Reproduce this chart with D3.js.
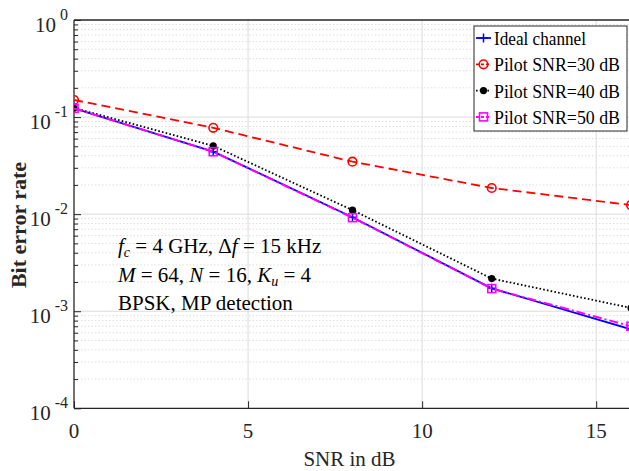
<!DOCTYPE html>
<html><head><meta charset="utf-8">
<script src="https://cdn.jsdelivr.net/npm/d3@7/dist/d3.min.js"></script>
<style>body{margin:0;background:#fff;}svg{display:block;font-family:"Liberation Serif","Times New Roman",serif;}</style>
</head><body><svg id="c" width="629" height="471"></svg>
<script>
const snr = [0, 4, 8, 12, 16];
const ideal = [0.123, 0.044, 0.0093, 0.00172, 0.00065];
const pilot30 = [0.150, 0.0775, 0.0347, 0.0186, 0.0124];
const pilot40 = [0.124, 0.0505, 0.0110, 0.00217, 0.00108];
const pilot50 = [0.123, 0.044, 0.0092, 0.00171, 0.00070];
const xTicks = [0, 5, 10, 15];
const yExps = [0, -1, -2, -3, -4];
const legendLabels = ["Ideal channel", "Pilot SNR=30 dB", "Pilot SNR=40 dB", "Pilot SNR=50 dB"];

const svg = d3.select("#c");
const L = 74, T = 20, B = 408.3, R = 631;
const x = d3.scaleLinear().domain([0, 16]).range([L, R]);
const y = d3.scaleLog().domain([1e-4, 1]).range([B, T]);
const axisCol = "#262626";

svg.append("clipPath").attr("id", "clip").append("rect")
  .attr("x", L).attr("y", T).attr("width", R - L).attr("height", B - T);

// minor grid
const minorVals = [];
for (let e = -4; e < 0; e++) for (let k = 2; k <= 9; k++) minorVals.push(k * Math.pow(10, e));
const grid = svg.append("g");
grid.selectAll("line.mn").data(minorVals).join("line")
  .attr("x1", L).attr("x2", R).attr("y1", d => y(d)).attr("y2", d => y(d))
  .attr("stroke", "#dedede").attr("stroke-width", 1).attr("stroke-dasharray", "1.5,2");
grid.selectAll("line.mj").data(yExps.slice(1, 4)).join("line")
  .attr("x1", L).attr("x2", R).attr("y1", d => y(Math.pow(10, d))).attr("y2", d => y(Math.pow(10, d)))
  .attr("stroke", "#dcdcdc").attr("stroke-width", 1);
grid.selectAll("line.vx").data(xTicks.slice(1)).join("line")
  .attr("x1", d => x(d)).attr("x2", d => x(d)).attr("y1", T).attr("y2", B)
  .attr("stroke", "#dcdcdc").attr("stroke-width", 1);

// axes
const yAxis = d3.axisLeft(y).tickValues(minorVals).tickSize(-4).tickFormat("");
svg.append("g").attr("transform", `translate(${L},0)`).call(yAxis)
  .call(g => g.select(".domain").remove())
  .call(g => g.selectAll("line").attr("stroke", axisCol));
const yAxisMaj = d3.axisLeft(y).tickValues(yExps.map(e => Math.pow(10, e))).tickSize(-7).tickFormat("");
svg.append("g").attr("transform", `translate(${L},0)`).call(yAxisMaj)
  .call(g => g.select(".domain").remove())
  .call(g => g.selectAll("line").attr("stroke", axisCol));
const xAxis = d3.axisBottom(x).tickValues(xTicks).tickSize(-7).tickFormat("");
svg.append("g").attr("transform", `translate(0,${B})`).call(xAxis)
  .call(g => g.select(".domain").remove())
  .call(g => g.selectAll("line").attr("stroke", axisCol));
svg.append("line").attr("x1", L).attr("x2", L).attr("y1", T).attr("y2", B).attr("stroke", axisCol).attr("stroke-width", 1.3);
svg.append("line").attr("x1", L).attr("x2", R).attr("y1", B).attr("y2", B).attr("stroke", axisCol).attr("stroke-width", 1.3);
svg.append("line").attr("x1", L).attr("x2", R).attr("y1", T).attr("y2", T).attr("stroke", axisCol).attr("stroke-width", 1.3);

// tick labels
svg.selectAll("text.xt").data(xTicks).join("text")
  .attr("x", d => x(d)).attr("y", 438).attr("text-anchor", "middle")
  .attr("font-size", 21).attr("fill", axisCol).text(d => d);
const yl = svg.selectAll("text.yt").data(yExps).join("text")
  .attr("x", 68).attr("y", d => y(Math.pow(10, d)) + 12).attr("text-anchor", "end")
  .attr("font-size", 21).attr("fill", axisCol);
yl.append("tspan").text("10");
yl.append("tspan").attr("dx", 4).attr("dy", -12).attr("font-size", 16).text(d => d === 0 ? "0" : "-" + Math.abs(d));

svg.append("text").attr("x", (L + R) / 2 - 3).attr("y", 466).attr("text-anchor", "middle")
  .attr("font-size", 21).attr("fill", axisCol).text("SNR in dB");
svg.append("text").attr("transform", `translate(26,225) rotate(-90)`).attr("text-anchor", "middle")
  .attr("font-size", 22).attr("font-weight", "bold").attr("fill", axisCol).text("Bit error rate");

// series
const series = [
  {vals: ideal, color: "#0000ff", dash: null, width: 1.8, marker: "plus"},
  {vals: pilot30, color: "#ff0000", dash: "9,5", width: 1.8, marker: "circle"},
  {vals: pilot40, color: "#000000", dash: "1.6,2.2", width: 1.8, marker: "dot"},
  {vals: pilot50, color: "#ff00ff", dash: "9,3,2,3", width: 2, marker: "square"}
];
const line = d3.line().x(d => x(d[0])).y(d => y(d[1]));
const plot = svg.append("g").attr("clip-path", "url(#clip)");
function drawMarker(g, type, color, cx, cy) {
  if (type === "plus") {
    g.append("path").attr("d", `M${cx-4.5},${cy}H${cx+4.5}M${cx},${cy-4.5}V${cy+4.5}`).attr("stroke", color).attr("stroke-width", 1.5).attr("fill", "none");
  } else if (type === "circle") {
    g.append("circle").attr("cx", cx).attr("cy", cy).attr("r", 4.3).attr("stroke", color).attr("stroke-width", 1.6).attr("fill", "none");
  } else if (type === "dot") {
    g.append("circle").attr("cx", cx).attr("cy", cy).attr("r", 3.6).attr("fill", color);
  } else {
    g.append("rect").attr("x", cx - 4).attr("y", cy - 4).attr("width", 8).attr("height", 8).attr("stroke", color).attr("stroke-width", 1.6).attr("fill", "none");
  }
}
series.forEach(s => {
  const pts = snr.map((v, i) => [v, s.vals[i]]);
  plot.append("path").attr("d", line(pts)).attr("fill", "none").attr("stroke", s.color)
    .attr("stroke-width", s.width).attr("stroke-dasharray", s.dash);
  const mg = plot.append("g");
  pts.forEach(p => drawMarker(mg, s.marker, s.color, x(p[0]), y(p[1])));
});

// legend
const lg = svg.append("g");
lg.append("rect").attr("x", 474).attr("y", 26).attr("width", 153).attr("height", 105)
  .attr("fill", "#fff").attr("stroke", axisCol).attr("stroke-width", 1);
const legendWidths = [92, 126, 126, 126];
series.forEach((s, i) => {
  const cy = 38 + i * 26.3;
  lg.append("line").attr("x1", 476).attr("x2", 491).attr("y1", cy).attr("y2", cy)
    .attr("stroke", s.color).attr("stroke-width", s.width).attr("stroke-dasharray", s.dash ? (s.marker === "dot" ? "1.6,2.2" : "3,2") : null);
  drawMarker(lg, s.marker, s.color, 483.5, cy);
  lg.append("text").attr("x", 494).attr("y", cy + 7).attr("font-size", 19)
    .attr("textLength", legendWidths[i]).attr("lengthAdjust", "spacingAndGlyphs")
    .attr("fill", "#000").text(legendLabels[i]);
});

// annotation
const ann = svg.append("text").attr("font-size", 21).attr("fill", "#000");
const l1 = ann.append("tspan").attr("x", 118).attr("y", 253);
l1.append("tspan").attr("font-style", "italic").text("f");
l1.append("tspan").attr("font-style", "italic").attr("font-size", 14).attr("dy", 4).text("c");
l1.append("tspan").attr("dy", -4).text(" = 4 GHz, Δ");
l1.append("tspan").attr("font-style", "italic").text("f");
l1.append("tspan").text(" = 15 kHz");
const l2 = ann.append("tspan").attr("x", 118).attr("y", 281.5);
l2.append("tspan").attr("font-style", "italic").text("M");
l2.append("tspan").text(" = 64, ");
l2.append("tspan").attr("font-style", "italic").text("N");
l2.append("tspan").text(" = 16, ");
l2.append("tspan").attr("font-style", "italic").text("K");
l2.append("tspan").attr("font-style", "italic").attr("font-size", 14).attr("dy", 4).text("u");
l2.append("tspan").attr("dy", -4).text(" = 4");
ann.append("tspan").attr("x", 118).attr("y", 310).text("BPSK, MP detection");
</script></body></html>
